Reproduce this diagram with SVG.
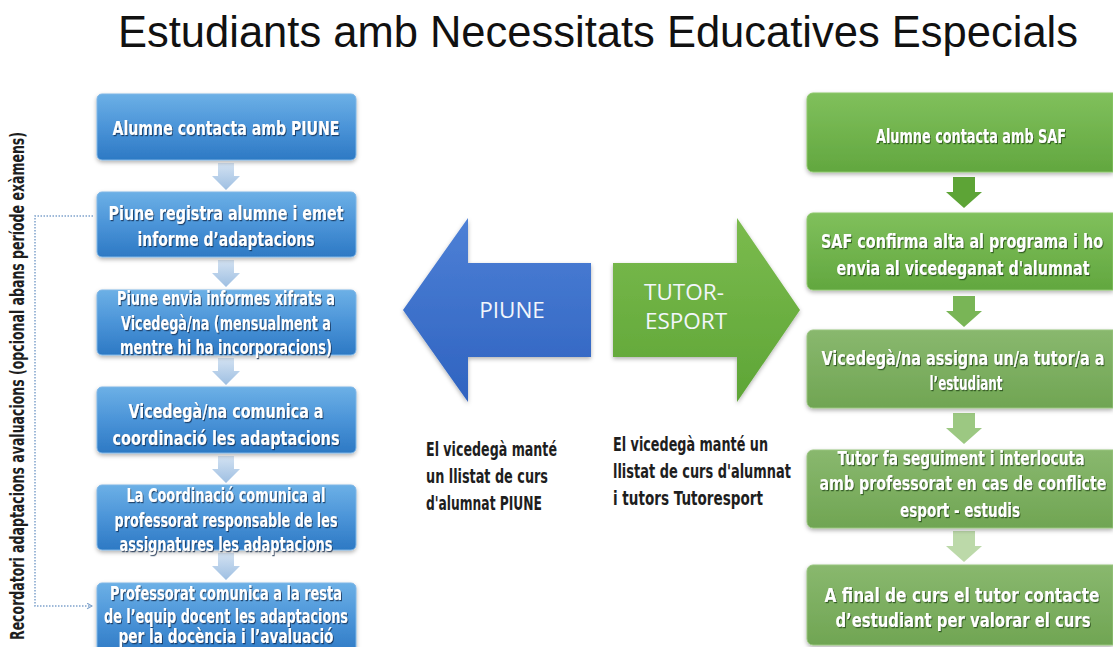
<svg xmlns="http://www.w3.org/2000/svg" width="1113" height="647" viewBox="0 0 1113 647">
  <defs>
    <linearGradient id="gBlueBox" x1="0" y1="0" x2="0" y2="1">
      <stop offset="0" stop-color="#6cb0e6"/>
      <stop offset="0.5" stop-color="#4b94d8"/>
      <stop offset="1" stop-color="#2d79c4"/>
    </linearGradient>
    <linearGradient id="gGreenBox" x1="0" y1="0" x2="0" y2="1">
      <stop offset="0" stop-color="#80c05c"/>
      <stop offset="1" stop-color="#62a73f"/>
    </linearGradient>
    <linearGradient id="gGreenBoxSoft" x1="0" y1="0" x2="0" y2="1">
      <stop offset="0" stop-color="#89b86e"/>
      <stop offset="1" stop-color="#70a553"/>
    </linearGradient>
    <linearGradient id="gBlueArrow" x1="0" y1="0" x2="0" y2="1">
      <stop offset="0" stop-color="#4d80d6"/>
      <stop offset="1" stop-color="#2f63c0"/>
    </linearGradient>
    <linearGradient id="gGreenArrow" x1="0" y1="0" x2="0" y2="1">
      <stop offset="0" stop-color="#7bbb4e"/>
      <stop offset="1" stop-color="#5ea536"/>
    </linearGradient>
    <linearGradient id="gStepBlue" x1="0" y1="0" x2="0" y2="1">
      <stop offset="0" stop-color="#d3e2f2"/>
      <stop offset="1" stop-color="#9ebfe2"/>
    </linearGradient>
    <filter id="boxShadow" x="-10%" y="-20%" width="120%" height="150%">
      <feDropShadow dx="0" dy="2" stdDeviation="2" flood-color="#000" flood-opacity="0.3"/>
    </filter>
    <filter id="txtShadow" x="-5%" y="-20%" width="110%" height="150%">
      <feDropShadow dx="1" dy="1.2" stdDeviation="0.7" flood-color="#0b2a4a" flood-opacity="0.75"/>
    </filter>
    <filter id="txtShadowG" x="-5%" y="-20%" width="110%" height="150%">
      <feDropShadow dx="1" dy="1.2" stdDeviation="0.7" flood-color="#1f3a10" flood-opacity="0.7"/>
    </filter>
    <!-- small step arrows, origin at top centre -->
    <path id="stepL" d="M-8,0 H8 V13 H14 L0,27 L-14,13 H-8 Z"/>
    <path id="stepR" d="M-11,0 H11 V15 H18 L0,31 L-18,15 H-11 Z"/>
    <marker id="openHead" viewBox="0 0 10 10" refX="8" refY="5" markerWidth="7" markerHeight="7" orient="auto" markerUnits="userSpaceOnUse">
      <path d="M1,1 L8,5 L1,9" fill="none" stroke="#7fa3cc" stroke-width="1.6"/>
    </marker>
  </defs>
  <style>
    .title { font-family: "Liberation Sans", Arial, sans-serif; font-size: 43.6px; fill: #111; }
    .boxL { fill: url(#gBlueBox); stroke: #7fb6e6; stroke-width: 1; filter: url(#boxShadow); }
    .boxG { fill: url(#gGreenBox); stroke: #8cc76a; stroke-width: 1; filter: url(#boxShadow); }
    .boxGs { fill: url(#gGreenBoxSoft); stroke: #97c47d; stroke-width: 1; filter: url(#boxShadow); }
    .cond { font-family: "DejaVu Sans", sans-serif; font-stretch: condensed; font-weight: bold; }
    .bt { font-size: 19px; fill: #fff; text-anchor: middle; }
    .btL { filter: url(#txtShadow); }
    .btG { filter: url(#txtShadowG); }
    .note { font-size: 19.5px; fill: #1e1e1e; }
    .big { font-family: "Open Sans", "Liberation Sans", sans-serif; font-size: 22.5px; fill: #f2f6fb; text-anchor: middle; }
    .conn { fill: none; stroke: #7fa3cc; stroke-width: 1.5; stroke-dasharray: 1.5 1.5; }
  </style>

  <rect width="1113" height="647" fill="#ffffff"/>

  <text class="title" x="598" y="47" text-anchor="middle" textLength="960" lengthAdjust="spacingAndGlyphs">Estudiants amb Necessitats Educatives Especials</text>

  <!-- vertical reminder label -->
  <text class="cond note" transform="translate(24,386) rotate(-90)" text-anchor="middle" font-size="19" textLength="508" lengthAdjust="spacingAndGlyphs">Recordatori adaptacions avaluacions (opcional abans període exàmens)</text>

  <!-- connectors -->
  <g id="connectors">
    <path class="conn" d="M93,216 H35 V606 H92" marker-end="url(#openHead)"/>
    <g fill="url(#gStepBlue)">
      <use href="#stepL" x="226" y="163"/>
      <use href="#stepL" x="226" y="260"/>
      <use href="#stepL" x="226" y="358"/>
      <use href="#stepL" x="226" y="456"/>
      <use href="#stepL" x="226" y="553"/>
    </g>
    <use href="#stepR" x="964" y="177" fill="#5da436"/>
    <use href="#stepR" x="964" y="296" fill="#79b556"/>
    <use href="#stepR" x="964" y="413" fill="#9cc882"/>
    <use href="#stepR" x="964" y="531" fill="#bcd9a9"/>
  </g>

  <!-- PIUNE flow -->
  <g id="p1">
    <rect class="boxL" x="97" y="94" width="259" height="66" rx="5"/>
    <text class="cond bt btL" x="226" y="135" textLength="227" lengthAdjust="spacingAndGlyphs">Alumne contacta amb PIUNE</text>
  </g>
  <g id="p2">
    <rect class="boxL" x="97" y="192" width="259" height="65" rx="5"/>
    <text class="cond bt btL" x="226" y="220" textLength="235" lengthAdjust="spacingAndGlyphs">Piune registra alumne i emet</text>
    <text class="cond bt btL" x="226" y="246" textLength="177" lengthAdjust="spacingAndGlyphs">informe d’adaptacions</text>
  </g>
  <g id="p3">
    <rect class="boxL" x="97" y="290" width="259" height="65" rx="5"/>
    <text class="cond bt btL" x="226" y="305" font-size="17.5" textLength="218" lengthAdjust="spacingAndGlyphs">Piune envia informes xifrats a</text>
    <text class="cond bt btL" x="226" y="330" font-size="17.5" textLength="210" lengthAdjust="spacingAndGlyphs">Vicedegà/na (mensualment a</text>
    <text class="cond bt btL" x="226" y="354" font-size="17.5" textLength="212" lengthAdjust="spacingAndGlyphs">mentre hi ha incorporacions)</text>
  </g>
  <g id="p4">
    <rect class="boxL" x="97" y="387" width="259" height="66" rx="5"/>
    <text class="cond bt btL" x="226" y="418" font-size="21" textLength="195" lengthAdjust="spacingAndGlyphs">Vicedegà/na comunica a</text>
    <text class="cond bt btL" x="226" y="445" font-size="21" textLength="227" lengthAdjust="spacingAndGlyphs">coordinació les adaptacions</text>
  </g>
  <g id="p5">
    <rect class="boxL" x="97" y="485" width="259" height="65" rx="5"/>
    <text class="cond bt btL" x="226" y="502" font-size="18" textLength="199" lengthAdjust="spacingAndGlyphs">La Coordinació comunica al</text>
    <text class="cond bt btL" x="226" y="527" font-size="18" textLength="223" lengthAdjust="spacingAndGlyphs">professorat responsable de les</text>
    <text class="cond bt btL" x="226" y="551" font-size="18" textLength="213" lengthAdjust="spacingAndGlyphs">assignatures les adaptacions</text>
  </g>
  <g id="p6">
    <rect class="boxL" x="97" y="583" width="259" height="72" rx="5"/>
    <text class="cond bt btL" x="226" y="600" font-size="18" textLength="232" lengthAdjust="spacingAndGlyphs">Professorat comunica a la resta</text>
    <text class="cond bt btL" x="226" y="623" font-size="18" textLength="244" lengthAdjust="spacingAndGlyphs">de l’equip docent les adaptacions</text>
    <text class="cond bt btL" x="226" y="643" font-size="18" textLength="215" lengthAdjust="spacingAndGlyphs">per la docència i l’avaluació</text>
  </g>

  <!-- central arrows -->
  <g id="piune">
    <path d="M403,310 L468,218 V263 H591 V357 H468 V402 Z" fill="url(#gBlueArrow)" filter="url(#boxShadow)"/>
    <text class="big" x="512" y="318">PIUNE</text>
  </g>
  <g id="tutoresport">
    <path d="M800,310 L737,218 V263 H613 V357 H737 V402 Z" fill="url(#gGreenArrow)" filter="url(#boxShadow)"/>
    <text class="big" x="684" y="300">TUTOR-</text>
    <text class="big" x="686" y="329">ESPORT</text>
  </g>

  <!-- notes -->
  <g id="notePiune">
    <text class="cond note" x="426" y="456" textLength="131" lengthAdjust="spacingAndGlyphs">El vicedegà manté</text>
    <text class="cond note" x="426" y="483" textLength="122" lengthAdjust="spacingAndGlyphs">un llistat de curs</text>
    <text class="cond note" x="426" y="510" textLength="116" lengthAdjust="spacingAndGlyphs">d'alumnat PIUNE</text>
  </g>
  <g id="noteTutor">
    <text class="cond note" x="613" y="451" textLength="155" lengthAdjust="spacingAndGlyphs">El vicedegà manté un</text>
    <text class="cond note" x="613" y="478" textLength="178" lengthAdjust="spacingAndGlyphs">llistat de curs d'alumnat</text>
    <text class="cond note" x="613" y="505" textLength="150" lengthAdjust="spacingAndGlyphs">i tutors Tutoresport</text>
  </g>

  <!-- tutor-esport flow: boxes run off the right edge, so their right side is square -->
  <g id="t1">
    <path class="boxG" d="M1113,93 H813 A6,6 0 0 0 807,99 V166 A6,6 0 0 0 813,172 H1113 Z"/>
    <text class="cond bt btG" x="971" y="143" font-size="21" textLength="190" lengthAdjust="spacingAndGlyphs">Alumne contacta amb SAF</text>
  </g>
  <g id="t2">
    <path class="boxG" d="M1113,213 H813 A6,6 0 0 0 807,219 V284 A6,6 0 0 0 813,290 H1113 Z"/>
    <text class="cond bt btG" x="962" y="248" font-size="20" textLength="282" lengthAdjust="spacingAndGlyphs">SAF confirma alta al programa i ho</text>
    <text class="cond bt btG" x="963" y="275" font-size="20" textLength="253" lengthAdjust="spacingAndGlyphs">envia al vicedeganat d'alumnat</text>
  </g>
  <g id="t3">
    <path class="boxGs" d="M1113,330 H813 A6,6 0 0 0 807,336 V402 A6,6 0 0 0 813,408 H1113 Z"/>
    <text class="cond bt btG" x="963" y="365" font-size="20" textLength="283" lengthAdjust="spacingAndGlyphs">Vicedegà/na assigna un/a tutor/a a</text>
    <text class="cond bt btG" x="966" y="390" font-size="20" textLength="73" lengthAdjust="spacingAndGlyphs">l’estudiant</text>
  </g>
  <g id="t4">
    <path class="boxGs" d="M1113,450 H813 A6,6 0 0 0 807,456 V522 A6,6 0 0 0 813,528 H1113 Z"/>
    <text class="cond bt btG" x="961" y="465" font-size="19" textLength="247" lengthAdjust="spacingAndGlyphs">Tutor fa seguiment i interlocuta</text>
    <text class="cond bt btG" x="963" y="490" font-size="19" textLength="287" lengthAdjust="spacingAndGlyphs">amb professorat en cas de conflicte</text>
    <text class="cond bt btG" x="960" y="517" font-size="19" textLength="120" lengthAdjust="spacingAndGlyphs">esport - estudis</text>
  </g>
  <g id="t5">
    <path class="boxGs" d="M1113,565 H813 A6,6 0 0 0 807,571 V639 A6,6 0 0 0 813,645 H1113 Z"/>
    <text class="cond bt btG" x="962" y="602" font-size="20" textLength="275" lengthAdjust="spacingAndGlyphs">A final de curs el tutor contacte</text>
    <text class="cond bt btG" x="963" y="627" font-size="20" textLength="255" lengthAdjust="spacingAndGlyphs">d’estudiant per valorar el curs</text>
  </g>
</svg>
